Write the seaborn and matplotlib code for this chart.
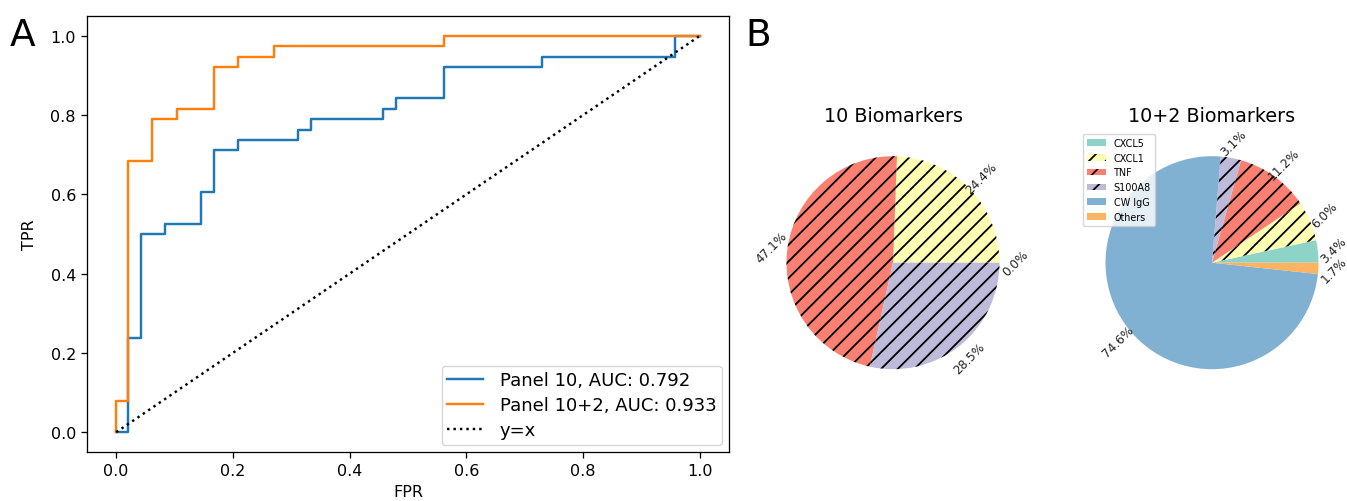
import numpy as np
import pandas as pd
import matplotlib
matplotlib.use("Agg")
import matplotlib.pyplot as plt
import seaborn as sns

# ---------------- data ----------------
# ROC curve corner points (Panel 10)
fpr_10 = [0.0, 0.021, 0.021, 0.042, 0.042, 0.083, 0.083, 0.146, 0.146, 0.167, 0.167,
          0.208, 0.208, 0.312, 0.312, 0.333, 0.333, 0.458, 0.458, 0.479, 0.479,
          0.562, 0.562, 0.729, 0.729, 0.958, 0.958, 1.0]
tpr_10 = [0.0, 0.0, 0.237, 0.237, 0.5, 0.5, 0.526, 0.526, 0.605, 0.605, 0.711,
          0.711, 0.737, 0.737, 0.763, 0.763, 0.789, 0.789, 0.816, 0.816, 0.842,
          0.842, 0.921, 0.921, 0.947, 0.947, 1.0, 1.0]
# ROC curve corner points (Panel 10+2)
fpr_12 = [0.0, 0.0, 0.021, 0.021, 0.062, 0.062, 0.104, 0.104, 0.167, 0.167,
          0.208, 0.208, 0.271, 0.271, 0.562, 0.562, 1.0]
tpr_12 = [0.0, 0.079, 0.079, 0.684, 0.684, 0.789, 0.789, 0.816, 0.816, 0.921,
          0.921, 0.947, 0.947, 0.974, 0.974, 1.0, 1.0]
diag = [0.0, 1.0]
auc_10 = 0.792
auc_12 = 0.933

xticks = [0.0, 0.2, 0.4, 0.6, 0.8, 1.0]
yticks = [0.0, 0.2, 0.4, 0.6, 0.8, 1.0]

# pie data
markers_10 = ["CXCL5", "CXCL1", "TNF", "S100A8"]
share_10 = [0.0, 24.4, 47.1, 28.5]
markers_12 = ["CXCL5", "CXCL1", "TNF", "S100A8", "CW IgG", "Others"]
share_12 = [3.4, 6.0, 11.2, 3.1, 74.6, 1.7]
hatched = {"CXCL1", "TNF", "S100A8"}

# ---------------- style ----------------
set3 = sns.color_palette("Set3")
marker_colors = {"CXCL5": set3[0], "CXCL1": set3[1], "S100A8": set3[2],
                 "TNF": set3[3], "CW IgG": set3[4], "Others": set3[5]}
tab = sns.color_palette("tab10")

base = 11.5
plt.rcParams.update({
    "font.family": ["DejaVu Sans"],
    "font.size": base,
    "axes.linewidth": 0.92,
    "xtick.major.width": 0.92, "ytick.major.width": 0.92,
    "xtick.major.size": 4.0, "ytick.major.size": 4.0,
    "xtick.major.pad": 4.0, "ytick.major.pad": 4.0,
    "hatch.linewidth": 1.3,
})

W, H = 1347, 502
fig = plt.figure(figsize=(W / 100, H / 100), dpi=100)

# ---------------- panel A ----------------
axA = fig.add_axes([87 / W, 1 - 453 / H, (729 - 87) / W, (453 - 17) / H])
roc10 = pd.DataFrame({"FPR": fpr_10, "TPR": tpr_10})
roc12 = pd.DataFrame({"FPR": fpr_12, "TPR": tpr_12})
dd = pd.DataFrame({"FPR": diag, "TPR": diag})
sns.lineplot(data=roc10, x="FPR", y="TPR", sort=False, estimator=None, ax=axA,
             color=tab[0], lw=1.75, label=f"Panel 10, AUC: {auc_10:.3f}")
sns.lineplot(data=roc12, x="FPR", y="TPR", sort=False, estimator=None, ax=axA,
             color=tab[1], lw=1.75, label=f"Panel 10+2, AUC: {auc_12:.3f}")
sns.lineplot(data=dd, x="FPR", y="TPR", sort=False, estimator=None, ax=axA,
             color="black", lw=1.75, linestyle=":", label="y=x")
axA.set_xlim(-0.05, 1.05)
axA.set_ylim(-0.05, 1.05)
axA.set_xticks(xticks)
axA.set_yticks(yticks)
axA.set_xlabel("FPR")
axA.set_ylabel("TPR", labelpad=10)
axA.legend(loc="lower right", fontsize=13, labelspacing=0.4, borderpad=0.3,
           borderaxespad=0.4, handletextpad=0.9)

fig.text(10 / W, 1 - 46 / H, "A", fontsize=27, va="baseline", ha="left")
fig.text(745 / W, 1 - 46 / H, "B", fontsize=27, va="baseline", ha="left")

# ---------------- panel B ----------------
R = 106.5
def pie_axes(cx, cy):
    return fig.add_axes([(cx - R) / W, 1 - (cy + R) / H, 2 * R / W, 2 * R / H])

def draw_pie(ax, names, vals, title):
    wedges, texts, autotexts = ax.pie(
        vals, colors=[marker_colors[n] for n in names], startangle=0,
        counterclock=True, autopct="%1.1f%%", pctdistance=1.15,
        textprops={"rotation": 45, "fontsize": 8.7, "color": "#222222"})
    for w, n in zip(wedges, names):
        w.set_linewidth(0)
        if n in hatched:
            w.set_hatch("//")
    ax.set_xlim(-1, 1)
    ax.set_ylim(-1, 1)
    ax.set_aspect("equal")
    ax.set_title(title, fontsize=13.8, pad=25)
    return wedges

axB1 = pie_axes(893, 263.7)
draw_pie(axB1, markers_10, share_10, "10 Biomarkers")

axB2 = pie_axes(1212, 263.7)
w2 = draw_pie(axB2, markers_12, share_12, "10+2 Biomarkers")
axB2.legend(w2, markers_12, loc="upper left", fontsize=6.9,
            bbox_to_anchor=(1083 / W, 1 - 135 / H), bbox_transform=fig.transFigure,
            borderaxespad=0, handlelength=2.0)

fig.savefig("out.png", dpi=100)
